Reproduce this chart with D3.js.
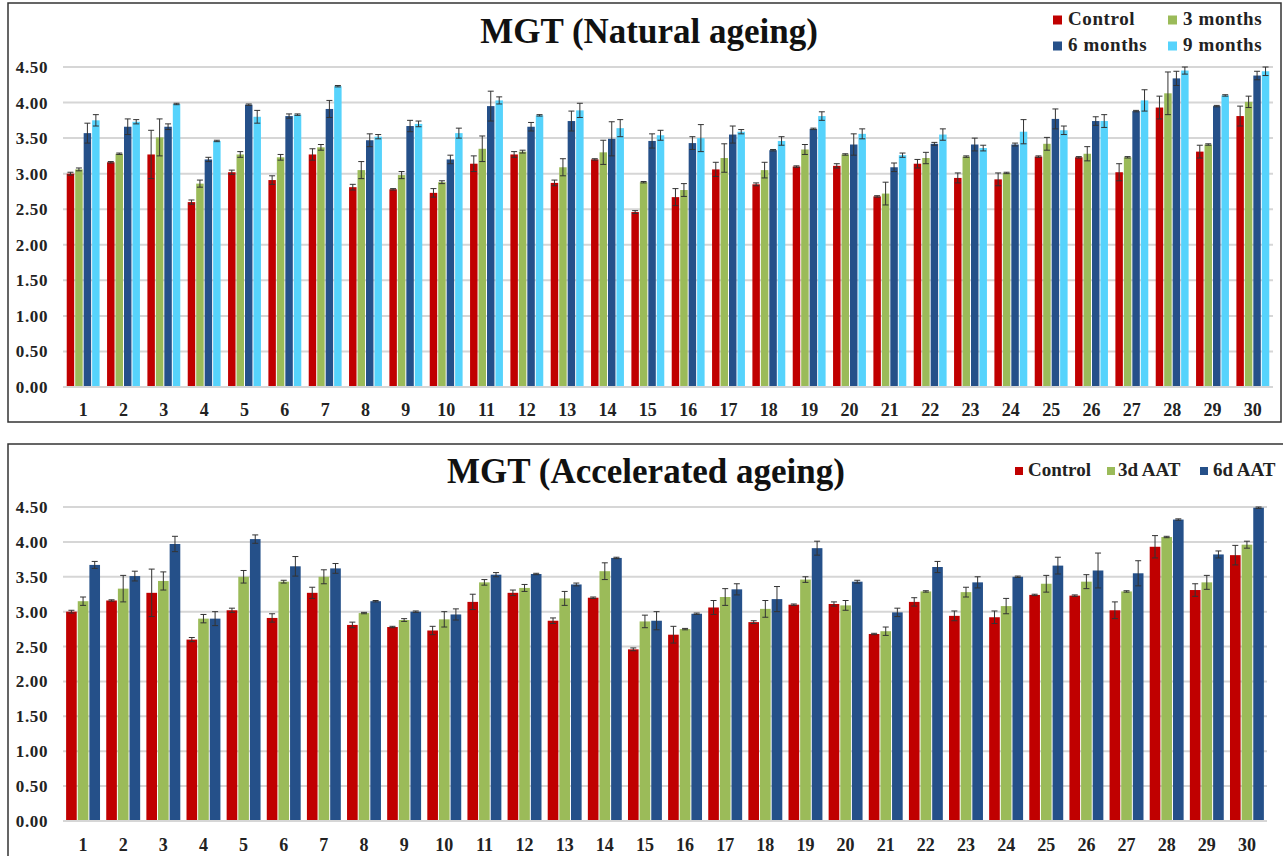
<!DOCTYPE html>
<html><head><meta charset="utf-8">
<script src="https://cdn.jsdelivr.net/npm/d3@7"></script>
<style>body{margin:0;background:#fff;} svg{display:block;}</style>
</head><body>
<svg id="chart" width="1283" height="856"></svg>
<script>
const categories = d3.range(1, 31).map(String);
const yTicks = [0, 0.5, 1, 1.5, 2, 2.5, 3, 3.5, 4, 4.5];

const control    = [3.00,3.16,3.27,2.60,3.02,2.91,3.27,2.81,2.78,2.73,3.14,3.27,2.87,3.20,2.46,2.67,3.06,2.85,3.10,3.11,2.68,3.14,2.94,2.92,3.24,3.23,3.02,3.93,3.31,3.81];
const controlErr = [0.02,0.01,0.34,0.03,0.03,0.06,0.08,0.04,0.01,0.06,0.11,0.04,0.04,0.01,0.02,0.12,0.10,0.02,0.01,0.03,0.01,0.06,0.07,0.09,0.01,0.01,0.12,0.16,0.09,0.14];
const months3    = [3.06,3.28,3.51,2.86,3.27,3.23,3.37,3.05,2.98,2.88,3.35,3.31,3.09,3.30,2.88,2.77,3.22,3.05,3.34,3.27,2.72,3.22,3.24,3.01,3.42,3.28,3.23,4.13,3.41,4.01];
const months3Err = [0.02,0.01,0.26,0.05,0.04,0.04,0.04,0.12,0.05,0.02,0.18,0.02,0.12,0.17,0.01,0.09,0.20,0.11,0.07,0.01,0.16,0.08,0.01,0.01,0.09,0.10,0.01,0.30,0.01,0.08];
const months6    = [3.57,3.66,3.66,3.20,3.97,3.81,3.91,3.47,3.67,3.20,3.95,3.66,3.74,3.49,3.46,3.43,3.55,3.33,3.63,3.41,3.09,3.42,3.41,3.41,3.77,3.74,3.88,4.34,3.95,4.38];
const months6Err = [0.14,0.11,0.04,0.03,0.01,0.03,0.12,0.09,0.08,0.06,0.21,0.06,0.14,0.24,0.10,0.09,0.12,0.01,0.01,0.15,0.06,0.02,0.09,0.02,0.14,0.06,0.01,0.10,0.01,0.06];
const months9    = [3.75,3.73,3.98,3.46,3.80,3.83,4.23,3.52,3.70,3.57,4.03,3.82,3.89,3.64,3.54,3.50,3.59,3.46,3.81,3.56,3.26,3.55,3.36,3.59,3.61,3.74,4.03,4.45,4.10,4.44];
const months9Err = [0.08,0.03,0.01,0.01,0.09,0.01,0.01,0.03,0.04,0.07,0.05,0.01,0.10,0.12,0.07,0.19,0.03,0.06,0.06,0.07,0.03,0.08,0.04,0.17,0.06,0.09,0.15,0.05,0.01,0.06];
const aat3d      = [3.15,3.33,3.44,2.90,3.50,3.43,3.50,2.98,2.88,2.89,3.42,3.34,3.19,3.58,2.86,2.75,3.21,3.04,3.46,3.09,2.72,3.29,3.28,3.08,3.40,3.43,3.29,4.07,3.42,3.96];
const aat3dErr   = [0.06,0.19,0.13,0.06,0.09,0.02,0.10,0.01,0.02,0.11,0.04,0.05,0.10,0.12,0.09,0.01,0.12,0.12,0.04,0.07,0.06,0.01,0.07,0.11,0.12,0.10,0.01,0.01,0.10,0.05];
const aat6d      = [3.67,3.51,3.97,2.90,4.04,3.65,3.62,3.15,3.00,2.96,3.53,3.54,3.39,3.77,2.87,2.97,3.32,3.18,3.91,3.43,2.99,3.64,3.42,3.50,3.66,3.59,3.55,4.32,3.82,4.49];
const aat6dErr   = [0.05,0.07,0.11,0.10,0.06,0.14,0.07,0.01,0.01,0.08,0.03,0.01,0.02,0.01,0.13,0.01,0.08,0.18,0.10,0.02,0.06,0.08,0.08,0.01,0.12,0.25,0.18,0.01,0.05,0.01];

const RED = "#C00000", GREEN = "#9BBB59", DBLUE = "#255089", CYAN = "#56D3FC";
const FONT = "'Liberation Serif','Times New Roman',serif";
const svg = d3.select("#chart");

function drawChart(cfg) {
  const g = svg.append("g");
  g.append("rect").attr("x", cfg.box[0]).attr("y", cfg.box[1])
    .attr("width", cfg.box[2]).attr("height", cfg.box[3])
    .attr("fill", "#fff").attr("stroke", "#333").attr("stroke-width", 1.5);

  const x = d3.scaleBand().domain(categories).range([cfg.left, cfg.right])
    .paddingInner(cfg.pad).paddingOuter(cfg.pad / 2);
  const y = d3.scaleLinear().domain([0, 4.5]).range([cfg.bottom, cfg.top]);
  const xs = d3.scaleBand().domain(cfg.series.map(s => s.name)).range([0, x.bandwidth()]);

  // gridlines
  g.append("g").selectAll("line").data(yTicks).join("line")
    .attr("x1", cfg.left).attr("x2", cfg.right)
    .attr("y1", d => y(d)).attr("y2", d => y(d))
    .attr("stroke", "#D6D6D6").attr("stroke-width", 2);

  // y axis labels via d3 axis
  const yAxis = d3.axisLeft(y).tickValues(yTicks).tickFormat(d3.format(".2f")).tickSize(0).tickPadding(0);
  const ya = g.append("g").attr("transform", `translate(${cfg.yLabelX},0)`).call(yAxis);
  ya.select(".domain").remove();
  ya.selectAll("text").attr("font-family", FONT).attr("font-weight", "bold")
    .attr("font-size", 17).attr("fill", "#222").attr("letter-spacing", 0.6);

  // x axis labels
  const xAxis = d3.axisBottom(x).tickSize(0).tickPadding(0);
  const xa = g.append("g").attr("transform", `translate(0,${cfg.xLabelY})`).call(xAxis);
  xa.select(".domain").remove();
  xa.selectAll("text").attr("font-family", FONT).attr("font-weight", "bold")
    .attr("font-size", 18).attr("fill", "#222").attr("dy", 0).attr("y", 0);

  // bars
  cfg.series.forEach(s => {
    const sg = g.append("g");
    const data = categories.map((c, i) => ({c, v: s.values[i], e: s.err[i]}));
    sg.selectAll("rect").data(data).join("rect")
      .attr("x", d => x(d.c) + xs(s.name) + 0.5)
      .attr("width", xs.bandwidth() - 1)
      .attr("y", d => y(d.v))
      .attr("height", d => y(0) - y(d.v))
      .attr("fill", s.color);
    const cx = d => x(d.c) + xs(s.name) + xs.bandwidth() / 2;
    sg.selectAll("line.err").data(data).join("line").attr("class", "err")
      .attr("x1", cx).attr("x2", cx)
      .attr("y1", d => y(d.v + d.e)).attr("y2", d => y(d.v - d.e))
      .attr("stroke", "#333").attr("stroke-width", 1);
    ["top", "bot"].forEach(k => {
      sg.selectAll("line.cap" + k).data(data).join("line").attr("class", "cap" + k)
        .attr("x1", d => cx(d) - 3).attr("x2", d => cx(d) + 3)
        .attr("y1", d => y(k === "top" ? d.v + d.e : d.v - d.e))
        .attr("y2", d => y(k === "top" ? d.v + d.e : d.v - d.e))
        .attr("stroke", "#333").attr("stroke-width", 1);
    });
  });

  // baseline
  g.append("line").attr("x1", cfg.left).attr("x2", cfg.right)
    .attr("y1", y(0)).attr("y2", y(0)).attr("stroke", "#D6D6D6").attr("stroke-width", 2);

  // title
  g.append("text").attr("x", cfg.titleX).attr("y", cfg.titleY).attr("text-anchor", "middle")
    .attr("font-family", FONT).attr("font-weight", "bold").attr("font-size", 35)
    .attr("fill", "#111").text(cfg.title);

  // legend
  cfg.legend.forEach(l => {
    const s = cfg.series.find(q => q.name === l.name);
    g.append("rect").attr("x", l.x).attr("y", l.y - l.sq / 2 - 5).attr("width", l.sq).attr("height", l.sq)
      .attr("fill", s.color);
    g.append("text").attr("x", l.x + l.tx).attr("y", l.y)
      .attr("font-family", FONT).attr("font-weight", "bold").attr("font-size", 19)
      .attr("letter-spacing", l.ls).attr("fill", "#222").text(l.name);
  });
}

drawChart({
  box: [8, 3, 1273, 419],
  left: 63, right: 1273, top: 67, bottom: 387, pad: 0.16,
  yLabelX: 48, xLabelY: 416,
  title: "MGT (Natural ageing)", titleX: 649, titleY: 43,
  series: [
    {name: "Control", values: control, err: controlErr, color: RED},
    {name: "3 months", values: months3, err: months3Err, color: GREEN},
    {name: "6 months", values: months6, err: months6Err, color: DBLUE},
    {name: "9 months", values: months9, err: months9Err, color: CYAN}
  ],
  legend: [
    {name: "Control", x: 1053, y: 25, sq: 9, tx: 15, ls: 0.6},
    {name: "3 months", x: 1168, y: 25, sq: 9, tx: 15, ls: 0.6},
    {name: "6 months", x: 1053, y: 51, sq: 9, tx: 15, ls: 0.6},
    {name: "9 months", x: 1168, y: 51, sq: 9, tx: 15, ls: 0.6}
  ]
});

drawChart({
  box: [8, 444, 1276, 430],
  left: 63, right: 1267, top: 507, bottom: 821, pad: 0.13,
  yLabelX: 48, xLabelY: 851,
  title: "MGT (Accelerated ageing)", titleX: 646, titleY: 483,
  series: [
    {name: "Control", values: control, err: controlErr, color: RED},
    {name: "3d AAT", values: aat3d, err: aat3dErr, color: GREEN},
    {name: "6d AAT", values: aat6d, err: aat6dErr, color: DBLUE}
  ],
  legend: [
    {name: "Control", x: 1015, y: 476, sq: 8, tx: 13, ls: 0},
    {name: "3d AAT", x: 1107, y: 476, sq: 8, tx: 11, ls: 0},
    {name: "6d AAT", x: 1200, y: 476, sq: 8, tx: 13, ls: 0}
  ]
});
</script>
</body></html>
